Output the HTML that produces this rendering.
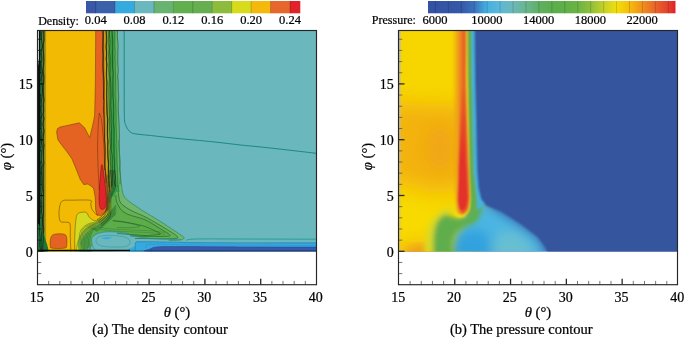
<!DOCTYPE html>
<html><head><meta charset="utf-8"><style>
html,body{margin:0;padding:0;background:#fff;}
body{width:685px;height:338px;overflow:hidden;}
svg{display:block;will-change:transform;font-family:"Liberation Serif",serif;font-size:14.5px;}
svg text{fill:#000;stroke:#000;stroke-width:0.22px;}
</style></head><body>
<svg width="685" height="338" viewBox="0 0 685 338">
<defs>
<clipPath id="cl"><rect x="37" y="30" width="280" height="221.60000000000002"/></clipPath>
<clipPath id="cr"><rect x="398" y="30" width="280" height="221.60000000000002"/></clipPath>
</defs>
<rect x="86.00" y="1" width="10.00" height="12.3" fill="#3A56A6"/>
<rect x="95.70" y="1" width="19.73" height="12.3" fill="#3A61AA"/>
<rect x="115.13" y="1" width="19.73" height="12.3" fill="#36AADF"/>
<rect x="134.56" y="1" width="19.73" height="12.3" fill="#6AB8BE"/>
<rect x="153.99" y="1" width="19.73" height="12.3" fill="#67B36F"/>
<rect x="173.42" y="1" width="19.73" height="12.3" fill="#62AF4E"/>
<rect x="192.85" y="1" width="19.73" height="12.3" fill="#66AF50"/>
<rect x="212.28" y="1" width="19.73" height="12.3" fill="#8DBC3C"/>
<rect x="231.71" y="1" width="19.73" height="12.3" fill="#D7DB1C"/>
<rect x="251.14" y="1" width="19.73" height="12.3" fill="#F4B90A"/>
<rect x="270.57" y="1" width="19.73" height="12.3" fill="#E7662B"/>
<rect x="290.00" y="1" width="10.30" height="12.3" fill="#E22128"/>
<line x1="95.70" y1="1" x2="95.70" y2="13.3" stroke="#000" stroke-opacity="0.25" stroke-width="0.8"/>
<line x1="115.13" y1="1" x2="115.13" y2="13.3" stroke="#000" stroke-opacity="0.25" stroke-width="0.8"/>
<line x1="134.56" y1="1" x2="134.56" y2="13.3" stroke="#000" stroke-opacity="0.25" stroke-width="0.8"/>
<line x1="153.99" y1="1" x2="153.99" y2="13.3" stroke="#000" stroke-opacity="0.25" stroke-width="0.8"/>
<line x1="173.42" y1="1" x2="173.42" y2="13.3" stroke="#000" stroke-opacity="0.25" stroke-width="0.8"/>
<line x1="192.85" y1="1" x2="192.85" y2="13.3" stroke="#000" stroke-opacity="0.25" stroke-width="0.8"/>
<line x1="212.28" y1="1" x2="212.28" y2="13.3" stroke="#000" stroke-opacity="0.25" stroke-width="0.8"/>
<line x1="231.71" y1="1" x2="231.71" y2="13.3" stroke="#000" stroke-opacity="0.25" stroke-width="0.8"/>
<line x1="251.14" y1="1" x2="251.14" y2="13.3" stroke="#000" stroke-opacity="0.25" stroke-width="0.8"/>
<line x1="270.57" y1="1" x2="270.57" y2="13.3" stroke="#000" stroke-opacity="0.25" stroke-width="0.8"/>
<line x1="290.00" y1="1" x2="290.00" y2="13.3" stroke="#000" stroke-opacity="0.25" stroke-width="0.8"/>
<text x="38.2" y="24.5" font-size="12">Density:</text>
<text x="95.70" y="24.4" font-size="12.5" text-anchor="middle">0.04</text>
<text x="134.56" y="24.4" font-size="12.5" text-anchor="middle">0.08</text>
<text x="173.42" y="24.4" font-size="12.5" text-anchor="middle">0.12</text>
<text x="212.28" y="24.4" font-size="12.5" text-anchor="middle">0.16</text>
<text x="251.14" y="24.4" font-size="12.5" text-anchor="middle">0.20</text>
<text x="290.00" y="24.4" font-size="12.5" text-anchor="middle">0.24</text>
<defs><linearGradient id="pg" x1="428" x2="675.5" y1="0" y2="0" gradientUnits="userSpaceOnUse">
<stop offset="0.0000" stop-color="#3451A2"/>
<stop offset="0.1333" stop-color="#3558A7"/>
<stop offset="0.1859" stop-color="#3A72BB"/>
<stop offset="0.2384" stop-color="#45B0E2"/>
<stop offset="0.2909" stop-color="#5CB8D8"/>
<stop offset="0.3434" stop-color="#6BB8B8"/>
<stop offset="0.3960" stop-color="#69B590"/>
<stop offset="0.4485" stop-color="#5FB063"/>
<stop offset="0.5010" stop-color="#5AAE4C"/>
<stop offset="0.5535" stop-color="#5FAF49"/>
<stop offset="0.6061" stop-color="#6CB445"/>
<stop offset="0.6586" stop-color="#8FBF3A"/>
<stop offset="0.7111" stop-color="#C5D127"/>
<stop offset="0.7636" stop-color="#F2DE0A"/>
<stop offset="0.8162" stop-color="#F5BA0B"/>
<stop offset="0.8687" stop-color="#EF8E1D"/>
<stop offset="0.9212" stop-color="#E8632A"/>
<stop offset="0.9697" stop-color="#E3402B"/>
<stop offset="1.0000" stop-color="#E1222A"/>
</linearGradient></defs>
<rect x="428" y="1" width="247.5" height="12.3" fill="url(#pg)"/>
<line x1="435.40" y1="1" x2="435.40" y2="13.3" stroke="#000" stroke-opacity="0.2" stroke-width="0.8"/>
<line x1="448.34" y1="1" x2="448.34" y2="13.3" stroke="#000" stroke-opacity="0.2" stroke-width="0.8"/>
<line x1="461.28" y1="1" x2="461.28" y2="13.3" stroke="#000" stroke-opacity="0.2" stroke-width="0.8"/>
<line x1="474.22" y1="1" x2="474.22" y2="13.3" stroke="#000" stroke-opacity="0.2" stroke-width="0.8"/>
<line x1="487.16" y1="1" x2="487.16" y2="13.3" stroke="#000" stroke-opacity="0.2" stroke-width="0.8"/>
<line x1="500.10" y1="1" x2="500.10" y2="13.3" stroke="#000" stroke-opacity="0.2" stroke-width="0.8"/>
<line x1="513.04" y1="1" x2="513.04" y2="13.3" stroke="#000" stroke-opacity="0.2" stroke-width="0.8"/>
<line x1="525.98" y1="1" x2="525.98" y2="13.3" stroke="#000" stroke-opacity="0.2" stroke-width="0.8"/>
<line x1="538.92" y1="1" x2="538.92" y2="13.3" stroke="#000" stroke-opacity="0.2" stroke-width="0.8"/>
<line x1="551.86" y1="1" x2="551.86" y2="13.3" stroke="#000" stroke-opacity="0.2" stroke-width="0.8"/>
<line x1="564.80" y1="1" x2="564.80" y2="13.3" stroke="#000" stroke-opacity="0.2" stroke-width="0.8"/>
<line x1="577.74" y1="1" x2="577.74" y2="13.3" stroke="#000" stroke-opacity="0.2" stroke-width="0.8"/>
<line x1="590.68" y1="1" x2="590.68" y2="13.3" stroke="#000" stroke-opacity="0.2" stroke-width="0.8"/>
<line x1="603.62" y1="1" x2="603.62" y2="13.3" stroke="#000" stroke-opacity="0.2" stroke-width="0.8"/>
<line x1="616.56" y1="1" x2="616.56" y2="13.3" stroke="#000" stroke-opacity="0.2" stroke-width="0.8"/>
<line x1="629.50" y1="1" x2="629.50" y2="13.3" stroke="#000" stroke-opacity="0.2" stroke-width="0.8"/>
<line x1="642.44" y1="1" x2="642.44" y2="13.3" stroke="#000" stroke-opacity="0.2" stroke-width="0.8"/>
<line x1="655.38" y1="1" x2="655.38" y2="13.3" stroke="#000" stroke-opacity="0.2" stroke-width="0.8"/>
<line x1="668.32" y1="1" x2="668.32" y2="13.3" stroke="#000" stroke-opacity="0.2" stroke-width="0.8"/>
<text x="371.8" y="24.4" font-size="12">Pressure:</text>
<text x="435.00" y="24.4" font-size="12.5" text-anchor="middle">6000</text>
<text x="486.76" y="24.4" font-size="12.5" text-anchor="middle">10000</text>
<text x="538.52" y="24.4" font-size="12.5" text-anchor="middle">14000</text>
<text x="590.28" y="24.4" font-size="12.5" text-anchor="middle">18000</text>
<text x="642.04" y="24.4" font-size="12.5" text-anchor="middle">22000</text>
<g clip-path="url(#cl)">
<rect x="37" y="30" width="280" height="222" fill="#6AB8BE"/>
<path d="M103.00,29.00 C104.76,12.40 116.13,22.90 117.60,29.00 C119.07,35.10 117.63,80.40 117.70,90.00 C117.77,99.60 118.15,120.00 118.30,125.00 C118.45,130.00 119.02,135.50 119.20,140.00 C119.38,144.50 119.87,165.50 120.10,170.00 C120.33,174.50 121.26,182.80 121.50,185.00 C121.74,187.20 122.20,190.80 122.50,192.00 C122.80,193.20 123.95,196.14 124.50,197.00 C125.05,197.86 126.67,199.55 128.00,200.60 C129.33,201.65 136.10,206.34 137.80,207.50 C139.50,208.66 143.10,211.03 145.00,212.20 C146.90,213.37 154.43,217.73 156.80,219.20 C159.17,220.67 166.44,225.42 168.70,226.90 C170.96,228.38 177.86,232.93 179.40,234.00 C180.94,235.07 183.99,237.00 184.10,237.60 C184.21,238.20 182.04,239.73 180.50,240.00 C178.96,240.27 171.75,240.26 168.70,240.30 C165.65,240.34 153.17,240.35 150.00,240.40 C146.83,240.45 139.10,240.44 137.00,240.80 C134.90,241.16 130.60,243.18 129.00,244.00 C127.40,244.82 122.70,248.20 121.00,249.00 C119.30,249.80 117.10,251.70 112.00,252.00 C106.90,252.30 74.20,256.70 70.00,252.00 C65.80,247.30 67.00,210.70 70.00,205.00 C73.00,199.30 96.70,212.60 100.00,195.00 C103.30,177.40 101.24,45.60 103.00,29.00 Z" fill="#70B66D" />
<path d="M104.00,29.00 C105.54,12.40 114.25,22.90 115.40,29.00 C116.55,35.10 115.44,80.40 115.50,90.00 C115.56,99.60 115.85,117.50 116.00,125.00 C116.15,132.50 116.80,159.00 117.00,165.00 C117.20,171.00 117.84,182.00 118.00,185.00 C118.16,188.00 118.30,193.17 118.60,195.00 C118.90,196.83 119.78,201.77 121.00,203.30 C122.22,204.83 128.40,208.95 130.80,210.30 C133.20,211.65 142.40,215.49 145.00,216.80 C147.60,218.11 154.43,222.03 156.80,223.40 C159.17,224.77 166.62,229.14 168.70,230.50 C170.78,231.86 177.24,236.17 177.60,237.00 C177.96,237.83 175.06,238.64 172.30,238.80 C169.54,238.96 153.73,238.63 150.00,238.60 C146.27,238.57 138.00,238.36 135.00,238.50 C132.00,238.64 123.50,239.25 120.00,240.00 C116.50,240.75 102.80,244.80 100.00,246.00 C97.20,247.20 95.00,251.40 92.00,252.00 C89.00,252.60 72.20,256.70 70.00,252.00 C67.80,247.30 67.00,210.70 70.00,205.00 C73.00,199.30 96.60,212.60 100.00,195.00 C103.40,177.40 102.46,45.60 104.00,29.00 Z" fill="#64B155" />
<path d="M104.00,29.00 C105.32,12.40 112.27,22.90 113.20,29.00 C114.13,35.10 113.26,80.40 113.30,90.00 C113.34,99.60 113.48,117.50 113.60,125.00 C113.72,132.50 114.34,159.00 114.50,165.00 C114.66,171.00 115.05,182.00 115.20,185.00 C115.35,188.00 115.89,193.44 116.00,195.00 C116.11,196.56 115.86,199.21 116.30,200.60 C116.74,201.99 119.23,207.52 120.40,208.90 C121.57,210.28 125.54,213.31 128.00,214.40 C130.46,215.49 141.88,218.43 145.00,219.80 C148.12,221.17 156.71,226.56 159.20,228.10 C161.69,229.64 169.54,234.37 169.90,235.20 C170.26,236.03 165.29,236.29 162.80,236.40 C160.31,236.51 148.28,236.34 145.00,236.30 C141.72,236.26 132.50,235.83 130.00,236.00 C127.50,236.17 123.00,237.20 120.00,238.00 C117.00,238.80 103.00,242.60 100.00,244.00 C97.00,245.40 93.00,251.20 90.00,252.00 C87.00,252.80 72.00,256.70 70.00,252.00 C68.00,247.30 67.00,210.70 70.00,205.00 C73.00,199.30 96.60,212.60 100.00,195.00 C103.40,177.40 102.68,45.60 104.00,29.00 Z" fill="#5CAD49" />
<path d="M108.60,29.00 C109.04,19.90 112.71,21.90 113.20,29.00 C113.69,36.10 113.40,87.90 113.50,100.00 C113.60,112.10 114.03,142.00 114.20,150.00 C114.37,158.00 115.02,175.80 115.20,180.00 C115.38,184.20 116.22,190.30 116.00,192.00 C115.78,193.70 113.60,197.00 113.00,197.00 C112.40,197.00 110.40,196.70 110.00,192.00 C109.60,187.30 109.12,157.20 109.00,150.00 C108.88,142.80 108.84,132.10 108.80,120.00 C108.76,107.90 108.16,38.10 108.60,29.00 Z" fill="#38A247" />
<path d="M91.80,238.60 C92.05,237.50 94.04,235.62 95.00,235.00 C95.96,234.38 99.70,232.72 101.40,232.40 C103.10,232.08 109.74,231.74 112.00,231.80 C114.26,231.86 121.70,232.54 124.00,233.00 C126.30,233.46 132.40,235.86 135.00,236.40 C137.60,236.94 146.70,238.13 150.00,238.40 C153.30,238.67 164.90,238.99 168.00,239.10 C171.10,239.21 177.80,239.45 181.00,239.50 C184.20,239.55 186.10,239.59 200.00,239.60 C213.90,239.61 308.00,238.36 320.00,239.60 C332.00,240.84 342.40,250.76 320.00,252.00 C297.60,253.24 118.75,252.60 96.00,252.00 C73.25,251.40 92.92,247.34 92.50,246.00 C92.08,244.66 91.55,239.70 91.80,238.60 Z" fill="#6AB8BE" />
<path d="M101.80,238.20 C101.63,237.83 104.33,237.17 106.00,237.10 C107.67,237.03 111.63,237.43 111.80,237.80 C111.97,238.17 108.67,239.23 107.00,239.30 C105.33,239.37 101.97,238.57 101.80,238.20 Z" fill="#36AADF" />
<path d="M135.30,252.00 C116.82,251.40 135.15,246.98 135.20,246.00 C135.25,245.02 135.32,242.63 135.80,242.20 C136.28,241.77 137.58,241.73 140.00,241.70 C142.42,241.67 156.00,241.84 160.00,241.90 C164.00,241.96 176.00,242.22 180.00,242.30 C184.00,242.38 192.00,242.64 200.00,242.70 C208.00,242.76 248.00,242.87 260.00,242.90 C272.00,242.93 314.00,242.09 320.00,243.00 C326.00,243.91 338.47,251.10 320.00,252.00 C301.53,252.90 153.78,252.60 135.30,252.00 Z" fill="#36AADF" />
<path d="M151.00,252.00 C134.15,251.62 150.66,248.73 151.50,248.20 C152.34,247.67 156.55,246.87 159.40,246.70 C162.25,246.53 171.94,246.48 180.00,246.50 C188.06,246.52 226.00,246.83 240.00,246.90 C254.00,246.97 312.00,246.69 320.00,247.20 C328.00,247.71 336.90,251.52 320.00,252.00 C303.10,252.48 167.85,252.38 151.00,252.00 Z" fill="#3A58A7" />
<path d="M38.00,29.00 C49.77,-8.17 96.80,13.83 108.60,29.00 C120.40,44.17 108.65,93.17 108.80,120.00 C108.95,146.83 109.05,175.83 109.50,190.00 C109.95,204.17 111.50,200.83 111.50,205.00 C111.50,209.17 111.08,212.08 109.50,215.00 C107.92,217.92 104.58,220.42 102.00,222.50 C99.42,224.58 96.67,225.67 94.00,227.50 C91.33,229.33 88.25,231.08 86.00,233.50 C83.75,235.92 81.73,238.92 80.50,242.00 C79.27,245.08 85.68,250.33 78.60,252.00 C71.52,253.67 44.77,289.17 38.00,252.00 C31.23,214.83 26.23,66.17 38.00,29.00 Z" fill="#9CC236" />
<path d="M38.00,29.00 C49.42,-8.17 95.03,13.83 106.50,29.00 C117.97,44.17 106.68,93.17 106.80,120.00 C106.92,146.83 106.75,175.83 107.20,190.00 C107.65,204.17 109.45,200.92 109.50,205.00 C109.55,209.08 109.00,211.87 107.50,214.50 C106.00,217.13 102.92,219.13 100.50,220.80 C98.08,222.47 95.50,223.05 93.00,224.50 C90.50,225.95 87.70,227.42 85.50,229.50 C83.30,231.58 81.22,234.42 79.80,237.00 C78.38,239.58 77.57,242.50 77.00,245.00 C76.43,247.50 82.90,250.83 76.40,252.00 C69.90,253.17 44.40,289.17 38.00,252.00 C31.60,214.83 26.58,66.17 38.00,29.00 Z" fill="#D5D920" />
<path d="M46.10,29.00 C53.09,2.98 98.99,20.72 106.00,29.00 C113.01,37.28 106.14,81.22 106.20,100.00 C106.26,118.78 106.41,177.40 106.50,190.00 C106.59,202.60 107.29,204.97 107.00,208.00 C106.71,211.03 104.93,214.66 104.00,216.00 C103.07,217.34 100.07,218.94 99.00,219.50 C97.93,220.06 95.90,221.02 94.80,220.80 C93.70,220.58 90.57,218.56 89.60,217.60 C88.63,216.64 87.39,213.22 86.50,212.60 C85.61,211.98 83.02,212.16 82.00,212.30 C80.98,212.44 78.50,213.02 77.80,213.80 C77.10,214.58 76.33,217.34 76.00,219.00 C75.67,220.66 75.15,225.55 75.00,228.00 C74.85,230.45 74.75,237.20 74.70,240.00 C74.65,242.80 77.94,250.60 74.60,252.00 C71.26,253.40 49.42,278.02 46.10,252.00 C42.78,225.98 39.11,55.02 46.10,29.00 Z" fill="#F2BA02" />
<path d="M102.40,29.00 L103.30,100.00 L104.00,140.00 L104.80,170.00 L106.00,192.00 L109.20,192.00 L108.00,170.00 L107.20,140.00 L106.50,100.00 L105.60,29.00 Z" fill="#D0A318" />
<path d="M105.60,29.00 L106.50,100.00 L107.20,140.00 L108.00,170.00 L109.20,192.00 L110.30,192.00 L109.10,170.00 L108.30,140.00 L107.60,100.00 L106.70,29.00 Z" fill="#4b4a22" />
<path d="M106.70,29.00 L107.60,100.00 L108.30,140.00 L109.10,170.00 L110.30,192.00 L111.90,192.00 L110.70,170.00 L109.90,140.00 L109.20,100.00 L108.30,29.00 Z" fill="#86A52E" />
<path d="M108.30,29.00 L109.20,100.00 L109.90,140.00 L110.70,170.00 L111.90,192.00 L114.20,192.00 L113.00,170.00 L112.20,140.00 L111.50,100.00 L110.60,29.00 Z" fill="#3DA048" />
<path d="M110.60,29.00 L111.50,100.00 L112.20,140.00 L113.00,170.00 L114.20,192.00 L117.20,192.00 L116.00,170.00 L115.20,140.00 L114.50,100.00 L113.60,29.00 Z" fill="#2E9D43" />
<path d="M113.60,29.00 L114.50,100.00 L115.20,140.00 L116.00,170.00 L117.20,192.00 L119.60,192.00 L118.40,170.00 L117.60,140.00 L116.90,100.00 L116.00,29.00 Z" fill="#4AAA52" />
<path d="M116.00,29.00 L116.90,100.00 L117.60,140.00 L118.40,170.00 L120.10,170.00 L119.30,140.00 L118.60,100.00 L117.70,29.00 Z" fill="#66B26C" />
<path d="M95.70,29.00 L103.60,29.00 L103.80,60.00 L104.40,100.00 L104.90,125.00 L105.00,170.00 L107.30,185.00 L108.20,200.00 L107.50,209.00 L104.00,213.50 L100.80,215.60 L97.00,215.00 L95.60,210.00 L95.30,198.00 L93.50,188.00 L88.00,184.00 L83.70,184.60 L80.00,179.00 L76.50,170.00 L72.00,159.00 L66.00,150.60 L61.00,144.20 L57.80,139.50 L56.60,132.00 L57.50,128.60 L60.00,127.00 L67.00,125.50 L79.30,122.80 L84.50,127.60 L89.70,137.50 L92.50,126.00 L94.60,116.00 L95.40,80.00 Z" fill="#E56322" stroke="#3a1c0a" stroke-width="0.55" stroke-opacity="0.7"/>
<path d="M101.30,166.00 C101.67,164.33 102.12,164.00 102.60,166.00 C103.08,168.00 103.63,173.67 104.20,178.00 C104.77,182.33 105.63,188.00 106.00,192.00 C106.37,196.00 106.63,199.28 106.40,202.00 C106.17,204.72 105.53,207.17 104.60,208.30 C103.67,209.43 101.72,209.85 100.80,208.80 C99.88,207.75 99.33,205.47 99.10,202.00 C98.87,198.53 99.18,192.33 99.40,188.00 C99.62,183.67 100.08,179.67 100.40,176.00 C100.72,172.33 100.93,167.67 101.30,166.00 Z" fill="#E2242A" stroke="#3a0c0a" stroke-width="0.55" stroke-opacity="0.7"/>
<path d="M50.30,240.00 C50.58,238.25 51.05,236.50 52.00,235.50 C52.95,234.50 54.17,234.25 56.00,234.00 C57.83,233.75 61.25,233.58 63.00,234.00 C64.75,234.42 65.88,234.50 66.50,236.50 C67.12,238.50 67.12,244.05 66.70,246.00 C66.28,247.95 66.45,247.83 64.00,248.20 C61.55,248.57 54.28,248.57 52.00,248.20 C49.72,247.83 50.58,247.37 50.30,246.00 C50.02,244.63 50.02,241.75 50.30,240.00 Z" fill="#E56322" stroke="#3a1c0a" stroke-width="0.55" stroke-opacity="0.7"/>
<rect x="37" y="29" width="3" height="223" fill="#0d110d"/>
<rect x="40" y="29" width="2.7" height="223" fill="#25723C"/>
<rect x="42.7" y="29" width="1.9" height="223" fill="#3E4B2A"/>
<rect x="44.6" y="29" width="1.5" height="223" fill="#A39B20"/>
<path d="M37.00,252.00 C35.17,247.50 36.33,229.00 37.00,225.00 C37.67,221.00 39.67,225.83 41.00,228.00 C42.33,230.17 43.83,234.00 45.00,238.00 C46.17,242.00 49.33,249.67 48.00,252.00 C46.67,254.33 38.83,256.50 37.00,252.00 Z" fill="#22753A" />
<defs><linearGradient id="lc" x1="0" y1="29" x2="0" y2="66" gradientUnits="userSpaceOnUse"><stop offset="0" stop-color="#d8d8d8"/><stop offset="0.8" stop-color="#d0d0d0"/><stop offset="1" stop-color="#d0d0d0" stop-opacity="0"/></linearGradient></defs>
<rect x="37.9" y="29" width="1.1" height="37" fill="url(#lc)"/>
<path d="M39.98,29.00 L40.57,32.60 L40.36,35.89 L39.50,40.36 L39.47,45.39 L39.53,50.12 L40.16,53.48 L39.62,59.79 L40.53,63.68 L40.44,70.47 L41.16,75.06 L40.95,78.25 L39.66,82.41 L39.96,85.88 L39.73,92.14 L40.55,97.47 L40.39,101.96 L39.51,105.21 L40.62,109.03 L39.97,113.74 L40.22,119.09 L40.83,123.28 L39.84,129.08 L40.35,134.38 L40.71,140.88 L41.16,145.03 L40.15,148.50 L39.67,154.53 L39.47,159.49 L40.78,165.16 L40.98,170.45 L40.65,174.71 L40.44,180.08 L40.91,184.91 L40.25,191.69 L39.51,197.34 L40.56,203.15 L40.88,210.12 L40.09,214.26 L39.44,219.94 L39.70,224.78 L39.51,228.25 L39.63,234.32 L40.10,238.31 L39.55,244.80 L40.39,249.60 L40.30,252.00" fill="none" stroke="#0a0a0a" stroke-width="0.7" stroke-opacity="0.75"/>
<path d="M42.37,29.00 L41.40,35.46 L41.55,40.12 L42.62,46.65 L41.22,50.26 L41.32,54.19 L41.96,59.13 L40.91,63.18 L41.56,67.85 L42.62,73.12 L41.83,78.88 L42.12,84.35 L42.52,87.57 L42.47,93.69 L41.61,99.88 L41.09,104.47 L41.01,110.01 L41.28,113.28 L41.51,116.93 L40.90,120.14 L41.08,123.74 L40.95,128.20 L42.01,134.70 L41.35,138.29 L41.56,142.68 L42.43,146.17 L41.74,153.14 L41.05,158.08 L41.52,161.49 L42.39,165.55 L40.94,169.19 L41.85,176.00 L41.88,179.58 L41.85,182.69 L42.45,189.60 L41.37,195.39 L41.20,199.86 L41.86,205.94 L41.49,212.06 L42.36,215.95 L42.43,222.89 L42.37,229.12 L41.31,235.08 L41.54,240.15 L40.95,243.26 L41.37,247.38 L41.80,252.00" fill="none" stroke="#0a0a0a" stroke-width="0.7" stroke-opacity="0.75"/>
<path d="M44.22,29.00 L44.19,33.79 L44.22,40.74 L42.90,45.20 L42.85,49.11 L43.62,52.92 L44.01,59.53 L43.68,64.44 L42.65,70.64 L44.14,76.28 L43.85,82.41 L42.82,87.33 L43.10,93.48 L44.25,99.69 L43.22,104.27 L43.80,111.06 L42.73,114.74 L44.13,118.34 L42.76,124.57 L44.26,130.87 L43.13,136.50 L42.74,141.70 L44.25,144.75 L43.45,150.35 L43.28,157.09 L43.99,163.57 L42.95,167.42 L42.93,171.59 L42.97,176.94 L42.74,181.61 L43.14,188.25 L43.55,193.08 L43.26,199.70 L43.40,206.37 L43.44,211.50 L43.29,214.57 L42.51,218.31 L42.81,224.50 L43.81,229.40 L43.09,234.62 L43.50,239.70 L42.69,245.83 L42.95,251.08 L43.40,252.00" fill="none" stroke="#0a0a0a" stroke-width="0.7" stroke-opacity="0.75"/>
<path d="M124.20,29.00 C124.20,39.17 124.17,75.20 124.20,90.00 C124.23,104.80 124.15,111.98 124.40,117.80 C124.65,123.62 124.90,122.70 125.70,124.90 C126.50,127.10 127.73,129.53 129.20,131.00 C130.67,132.47 130.95,132.95 134.50,133.70 C138.05,134.45 143.75,134.75 150.50,135.50 C157.25,136.25 164.45,137.13 175.00,138.20 C185.55,139.27 202.58,140.73 213.80,141.90 C225.02,143.07 233.18,144.22 242.30,145.20 C251.42,146.18 255.88,146.42 268.50,147.80 C281.12,149.18 309.75,152.55 318.00,153.50" fill="none" stroke="#16857f" stroke-width="1.0" stroke-opacity="0.95"/>
<path d="M71.00,252.00 C70.93,250.92 70.72,248.17 70.60,245.50 C70.48,242.83 70.40,239.58 70.30,236.00 C70.20,232.42 70.72,226.30 70.00,224.00 C69.28,221.70 67.58,222.62 66.00,222.20 C64.42,221.78 61.67,222.87 60.50,221.50 C59.33,220.13 59.08,216.75 59.00,214.00 C58.92,211.25 59.33,207.23 60.00,205.00 C60.67,202.77 61.00,201.40 63.00,200.60 C65.00,199.80 67.47,200.25 72.00,200.20 C76.53,200.15 87.07,199.67 90.20,200.30 C93.33,200.93 90.53,202.55 90.80,204.00 C91.07,205.45 91.22,207.62 91.80,209.00 C92.38,210.38 93.33,211.17 94.30,212.30 C95.27,213.43 97.05,215.22 97.60,215.80" fill="none" stroke="#3a2a10" stroke-width="0.6" stroke-opacity="0.75"/>
<path d="M99.30,113.00 C99.67,114.17 100.88,116.33 101.50,120.00 C102.12,123.67 102.55,130.00 103.00,135.00 C103.45,140.00 103.93,144.17 104.20,150.00 C104.47,155.83 104.53,166.67 104.60,170.00" fill="none" stroke="#3b1a08" stroke-width="0.6" stroke-opacity="0.65"/>
<path d="M99.30,113.00 C99.15,114.50 98.65,118.33 98.40,122.00 C98.15,125.67 97.93,130.33 97.80,135.00 C97.67,139.67 97.53,144.17 97.60,150.00 C97.67,155.83 97.92,163.33 98.20,170.00 C98.48,176.67 99.12,186.67 99.30,190.00" fill="none" stroke="#3b1a08" stroke-width="0.6" stroke-opacity="0.65"/>
<path d="M102.60,29.00 C102.63,34.17 102.60,48.17 102.80,60.00 C103.00,71.83 103.63,93.33 103.80,100.00" fill="none" stroke="#3b2a10" stroke-width="0.8" stroke-opacity="0.7"/>
<path d="M102.86,29.00 L103.37,35.80 L103.07,42.13 L102.87,49.06 L103.35,55.62 L102.97,63.59 L103.04,69.11 L103.68,77.15 L104.00,81.36 L103.81,90.19 L103.46,97.26 L103.85,101.34 L103.62,105.64 L103.57,110.85 L104.05,117.17 L104.26,125.38 L104.37,132.58 L104.46,139.89 L105.09,145.28 L105.19,154.26 L104.92,161.80 L105.03,166.95 L105.57,171.30 L105.81,177.30 L106.07,183.24" fill="none" stroke="#1a1f10" stroke-width="0.9" stroke-opacity="0.85"/>
<path d="M105.65,29.00 L106.53,34.05 L106.68,40.40 L105.94,46.39 L106.66,53.53 L106.11,58.88 L106.97,64.54 L106.31,72.33 L106.36,77.57 L107.04,81.87 L106.89,86.75 L106.63,92.99 L106.68,100.65 L106.79,107.87 L106.99,113.97 L107.76,119.32 L107.30,127.34 L107.37,135.76 L108.07,141.74 L107.58,148.94 L107.92,157.89 L108.56,163.18 L108.29,168.83 L108.22,173.19 L108.54,180.11 L108.84,187.11" fill="none" stroke="#1a1f10" stroke-width="0.9" stroke-opacity="0.9"/>
<path d="M108.81,29.00 L108.55,35.42 L108.30,43.75 L109.02,48.52 L108.52,56.61 L109.03,61.56 L108.65,70.26 L109.38,79.01 L109.05,86.03 L108.77,90.55 L109.06,99.36 L109.20,106.89 L109.65,115.00 L109.37,120.47 L109.40,128.07 L109.93,133.22 L110.14,141.48 L110.56,146.88 L109.88,151.90 L110.41,157.24 L110.28,161.55 L110.80,167.39 L110.73,172.05 L111.51,180.50 L111.45,187.79" fill="none" stroke="#1a1f10" stroke-width="0.6" stroke-opacity="0.7"/>
<path d="M109.48,29.00 L109.42,33.18 L110.14,41.73 L109.64,50.54 L110.15,57.72 L110.10,65.37 L109.99,74.37 L110.67,81.10 L110.78,89.60 L110.93,97.12 L110.67,105.70 L111.29,113.12 L111.00,121.48 L111.54,129.43 L111.45,136.29 L111.53,142.21 L111.27,149.25 L112.28,156.45 L112.27,164.85 L112.43,170.79 L112.35,177.69 L112.25,185.88" fill="none" stroke="#1a1f10" stroke-width="0.7" stroke-opacity="0.75"/>
<path d="M111.88,29.00 L112.37,36.01 L112.63,41.16 L112.64,47.64 L112.43,56.25 L112.52,60.30 L112.52,67.69 L113.22,72.54 L112.89,79.84 L112.90,88.30 L112.87,95.63 L113.51,101.78 L113.72,110.36 L113.56,116.28 L113.26,121.86 L114.00,128.34 L114.03,136.59 L113.84,145.34 L114.13,150.18 L114.06,155.56 L114.59,161.63 L114.48,168.10 L115.30,176.29 L114.65,182.55 L115.48,186.71" fill="none" stroke="#1a1f10" stroke-width="0.7" stroke-opacity="0.7"/>
<path d="M114.79,29.00 L114.51,35.85 L114.35,43.81 L114.81,48.49 L115.20,52.61 L114.64,57.80 L115.14,62.04 L115.21,68.27 L115.47,75.54 L115.47,84.34 L115.34,89.33 L114.99,94.23 L115.70,100.59 L115.39,105.48 L115.87,111.21 L115.91,117.81 L115.85,125.59 L116.45,133.55 L116.55,137.99 L116.02,145.60 L116.63,151.87 L116.63,160.42 L117.27,167.26 L117.54,175.25 L117.44,181.57 L117.64,186.59" fill="none" stroke="#1a1f10" stroke-width="0.5" stroke-opacity="0.5"/>
<path d="M117.63,29.00 L117.34,36.59 L118.14,45.09 L117.85,53.98 L117.76,61.93 L118.35,70.48 L117.72,76.22 L118.22,82.43 L118.27,90.27 L118.61,94.41 L118.65,98.73 L118.31,103.59 L118.28,111.53 L118.70,116.28 L119.12,123.89 L119.35,131.34 L119.47,137.80 L118.91,142.23 L119.15,148.87 L119.67,156.51 L120.03,163.13 L119.73,169.93 L120.37,175.83 L120.02,184.33" fill="none" stroke="#1a1f10" stroke-width="0.6" stroke-opacity="0.7"/>
<path d="M108.90,170.00 C109.07,172.67 110.13,181.33 109.90,186.00 C109.67,190.67 108.07,194.33 107.50,198.00 C106.93,201.67 107.17,205.25 106.50,208.00 C105.83,210.75 105.08,212.50 103.50,214.50 C101.92,216.50 98.08,219.08 97.00,220.00" fill="none" stroke="#1a1f10" stroke-width="0.65" stroke-opacity="0.75"/>
<path d="M110.40,170.00 C110.57,172.67 111.73,181.33 111.40,186.00 C111.07,190.67 109.03,194.33 108.40,198.00 C107.77,201.67 108.17,205.12 107.60,208.00 C107.03,210.88 106.57,213.07 105.00,215.30 C103.43,217.53 99.33,220.38 98.20,221.40" fill="none" stroke="#1a1f10" stroke-width="0.65" stroke-opacity="0.75"/>
<path d="M111.80,170.00 C111.97,172.67 113.22,181.33 112.80,186.00 C112.38,190.67 109.98,194.33 109.30,198.00 C108.62,201.67 109.17,204.98 108.70,208.00 C108.23,211.02 108.05,213.63 106.50,216.10 C104.95,218.57 100.58,221.68 99.40,222.80" fill="none" stroke="#1a1f10" stroke-width="0.65" stroke-opacity="0.75"/>
<path d="M113.20,170.00 C113.37,172.67 114.70,181.33 114.20,186.00 C113.70,190.67 110.93,194.33 110.20,198.00 C109.47,201.67 110.17,204.85 109.80,208.00 C109.43,211.15 109.53,214.20 108.00,216.90 C106.47,219.60 101.83,222.98 100.60,224.20" fill="none" stroke="#1a1f10" stroke-width="0.65" stroke-opacity="0.75"/>
<path d="M114.60,170.00 C114.77,172.67 116.18,181.33 115.60,186.00 C115.02,190.67 111.88,194.33 111.10,198.00 C110.32,201.67 111.17,204.72 110.90,208.00 C110.63,211.28 111.02,214.77 109.50,217.70 C107.98,220.63 103.08,224.28 101.80,225.60" fill="none" stroke="#1a1f10" stroke-width="0.65" stroke-opacity="0.75"/>
<path d="M106.20,176.00 C106.65,172.33 107.87,175.33 108.50,178.00 C109.13,180.67 109.83,187.50 110.00,192.00 C110.17,196.50 110.00,201.67 109.50,205.00 C109.00,208.33 107.62,212.83 107.00,212.00 C106.38,211.17 105.93,206.00 105.80,200.00 C105.67,194.00 105.75,179.67 106.20,176.00 Z" fill="#5a4a1e" opacity="0.55"/>
<path d="M119.20,140.00 C119.35,145.00 119.72,162.50 120.10,170.00 C120.48,177.50 121.10,181.33 121.50,185.00 C121.90,188.67 122.00,190.00 122.50,192.00 C123.00,194.00 123.58,195.57 124.50,197.00 C125.42,198.43 125.78,198.85 128.00,200.60 C130.22,202.35 134.97,205.57 137.80,207.50 C140.63,209.43 141.83,210.25 145.00,212.20 C148.17,214.15 152.85,216.75 156.80,219.20 C160.75,221.65 164.93,224.43 168.70,226.90 C172.47,229.37 176.83,232.22 179.40,234.00 C181.97,235.78 183.92,236.60 184.10,237.60 C184.28,238.60 183.07,239.55 180.50,240.00 C177.93,240.45 170.67,240.25 168.70,240.30" fill="none" stroke="#2a8a58" stroke-width="0.8" stroke-opacity="0.9"/>
<path d="M118.00,185.00 C118.10,186.67 118.10,191.95 118.60,195.00 C119.10,198.05 118.97,200.75 121.00,203.30 C123.03,205.85 126.80,208.05 130.80,210.30 C134.80,212.55 140.67,214.62 145.00,216.80 C149.33,218.98 152.85,221.12 156.80,223.40 C160.75,225.68 165.23,228.23 168.70,230.50 C172.17,232.77 177.00,235.62 177.60,237.00 C178.20,238.38 176.90,238.53 172.30,238.80 C167.70,239.07 156.22,238.65 150.00,238.60 C143.78,238.55 137.50,238.52 135.00,238.50" fill="none" stroke="#174f24" stroke-width="0.7" stroke-opacity="0.8"/>
<path d="M116.00,195.00 C116.05,195.93 115.57,198.28 116.30,200.60 C117.03,202.92 118.45,206.60 120.40,208.90 C122.35,211.20 123.90,212.58 128.00,214.40 C132.10,216.22 139.80,217.52 145.00,219.80 C150.20,222.08 155.05,225.53 159.20,228.10 C163.35,230.67 169.30,233.82 169.90,235.20 C170.50,236.58 166.95,236.22 162.80,236.40 C158.65,236.58 150.47,236.37 145.00,236.30 C139.53,236.23 132.50,236.05 130.00,236.00" fill="none" stroke="#174f24" stroke-width="0.7" stroke-opacity="0.8"/>
<path d="M112.80,220.70 C114.65,220.92 120.20,221.45 123.90,222.00 C127.60,222.55 131.48,223.25 135.00,224.00 C138.52,224.75 142.17,225.58 145.00,226.50 C147.83,227.42 149.43,228.25 152.00,229.50 C154.57,230.75 160.73,233.05 160.40,234.00 C160.07,234.95 152.57,234.95 150.00,235.20 C147.43,235.45 148.20,235.62 145.00,235.50 C141.80,235.38 135.47,234.83 130.80,234.50 C126.13,234.17 119.30,233.67 117.00,233.50" fill="none" stroke="#174f24" stroke-width="0.7" stroke-opacity="0.8"/>
<path d="M112.80,220.70 C114.65,220.92 119.37,221.08 123.90,222.00 C128.43,222.92 138.85,225.27 140.00,226.20 C141.15,227.13 134.63,227.37 130.80,227.60 C126.97,227.83 119.30,227.60 117.00,227.60" fill="none" stroke="#1d5f2c" stroke-width="0.6" stroke-opacity="0.65"/>
<path d="M100.00,227.30 C102.50,227.63 109.17,228.83 115.00,229.30 C120.83,229.77 129.17,229.85 135.00,230.10 C140.83,230.35 145.00,230.43 150.00,230.80 C155.00,231.17 162.50,232.05 165.00,232.30" fill="none" stroke="#1d5f2c" stroke-width="0.55" stroke-opacity="0.55"/>
<path d="M100.00,229.20 C102.50,229.53 109.17,230.73 115.00,231.20 C120.83,231.67 129.17,231.75 135.00,232.00 C140.83,232.25 145.00,232.33 150.00,232.70 C155.00,233.07 162.50,233.95 165.00,234.20" fill="none" stroke="#1d5f2c" stroke-width="0.55" stroke-opacity="0.55"/>
<path d="M79.00,252.00 C79.00,250.00 78.67,243.67 79.00,240.00 C79.33,236.33 79.50,232.67 81.00,230.00 C82.50,227.33 85.17,225.50 88.00,224.00 C90.83,222.50 94.67,222.67 98.00,221.00 C101.33,219.33 105.00,216.67 108.00,214.00 C111.00,211.33 114.67,206.50 116.00,205.00" fill="none" stroke="#174f24" stroke-width="0.6" stroke-opacity="0.65"/>
<path d="M80.50,252.00 C80.47,250.00 80.02,243.67 80.35,240.00 C80.68,236.33 81.08,232.54 82.50,230.00 C83.92,227.46 86.32,226.05 88.90,224.75 C91.48,223.45 94.82,223.83 98.00,222.20 C101.18,220.57 105.00,217.65 108.00,214.97 C111.00,212.30 114.67,207.60 116.00,206.12" fill="none" stroke="#174f24" stroke-width="0.6" stroke-opacity="0.65"/>
<path d="M82.00,252.00 C81.95,250.00 81.37,243.67 81.70,240.00 C82.03,236.33 82.65,232.42 84.00,230.00 C85.35,227.58 87.47,226.60 89.80,225.50 C92.13,224.40 94.97,224.99 98.00,223.40 C101.03,221.81 105.00,218.64 108.00,215.95 C111.00,213.26 114.67,208.70 116.00,207.25" fill="none" stroke="#174f24" stroke-width="0.6" stroke-opacity="0.65"/>
<path d="M83.50,252.00 C83.42,250.00 82.72,243.67 83.05,240.00 C83.38,236.33 84.22,232.29 85.50,230.00 C86.78,227.71 88.62,227.15 90.70,226.25 C92.78,225.35 95.12,226.15 98.00,224.60 C100.88,223.05 105.00,219.63 108.00,216.93 C111.00,214.22 114.67,209.80 116.00,208.38" fill="none" stroke="#174f24" stroke-width="0.6" stroke-opacity="0.65"/>
<path d="M85.00,252.00 C84.90,250.00 84.07,243.67 84.40,240.00 C84.73,236.33 85.80,232.17 87.00,230.00 C88.20,227.83 89.77,227.70 91.60,227.00 C93.43,226.30 95.27,227.32 98.00,225.80 C100.73,224.28 105.00,220.62 108.00,217.90 C111.00,215.18 114.67,210.90 116.00,209.50" fill="none" stroke="#174f24" stroke-width="0.6" stroke-opacity="0.65"/>
<path d="M86.50,252.00 C86.38,250.00 85.42,243.67 85.75,240.00 C86.08,236.33 87.38,232.04 88.50,230.00 C89.62,227.96 90.92,228.25 92.50,227.75 C94.08,227.25 95.42,228.48 98.00,227.00 C100.58,225.52 105.00,221.60 108.00,218.88 C111.00,216.15 114.67,212.00 116.00,210.62" fill="none" stroke="#174f24" stroke-width="0.6" stroke-opacity="0.65"/>
<path d="M88.00,252.00 C87.85,250.00 86.77,243.67 87.10,240.00 C87.43,236.33 88.95,231.92 90.00,230.00 C91.05,228.08 92.07,228.80 93.40,228.50 C94.73,228.20 95.57,229.64 98.00,228.20 C100.43,226.76 105.00,222.59 108.00,219.85 C111.00,217.11 114.67,213.10 116.00,211.75" fill="none" stroke="#174f24" stroke-width="0.6" stroke-opacity="0.65"/>
<path d="M89.50,252.00 C89.33,250.00 88.12,243.67 88.45,240.00 C88.78,236.33 90.53,231.79 91.50,230.00 C92.47,228.21 93.22,229.35 94.30,229.25 C95.38,229.15 95.72,230.80 98.00,229.40 C100.28,228.00 105.00,223.58 108.00,220.82 C111.00,218.07 114.67,214.20 116.00,212.88" fill="none" stroke="#174f24" stroke-width="0.6" stroke-opacity="0.65"/>
<path d="M91.00,252.00 C90.80,250.00 89.47,243.67 89.80,240.00 C90.13,236.33 92.10,231.67 93.00,230.00 C93.90,228.33 94.37,229.90 95.20,230.00 C96.03,230.10 95.87,231.97 98.00,230.60 C100.13,229.23 105.00,224.57 108.00,221.80 C111.00,219.03 114.67,215.30 116.00,214.00" fill="none" stroke="#174f24" stroke-width="0.6" stroke-opacity="0.65"/>
<path d="M74.70,252.00 C74.72,249.17 74.58,240.50 74.80,235.00 C75.02,229.50 75.50,222.53 76.00,219.00 C76.50,215.47 76.80,214.92 77.80,213.80 C78.80,212.68 80.55,212.50 82.00,212.30 C83.45,212.10 85.23,211.72 86.50,212.60 C87.77,213.48 88.22,216.23 89.60,217.60 C90.98,218.97 93.23,220.48 94.80,220.80 C96.37,221.12 97.47,220.30 99.00,219.50 C100.53,218.70 102.67,217.92 104.00,216.00 C105.33,214.08 106.50,209.33 107.00,208.00" fill="none" stroke="#3d3a10" stroke-width="0.6" stroke-opacity="0.7"/>
<path d="M76.40,252.00 C76.50,250.83 76.43,247.50 77.00,245.00 C77.57,242.50 78.38,239.58 79.80,237.00 C81.22,234.42 83.30,231.58 85.50,229.50 C87.70,227.42 90.50,225.95 93.00,224.50 C95.50,223.05 98.08,222.47 100.50,220.80 C102.92,219.13 106.00,217.13 107.50,214.50 C109.00,211.87 109.17,206.58 109.50,205.00" fill="none" stroke="#3d4a10" stroke-width="0.55" stroke-opacity="0.55"/>
<path d="M96.00,251.00 C95.42,250.17 93.20,248.07 92.50,246.00 C91.80,243.93 91.38,240.43 91.80,238.60 C92.22,236.77 93.40,236.03 95.00,235.00 C96.60,233.97 98.57,232.93 101.40,232.40 C104.23,231.87 108.23,231.70 112.00,231.80 C115.77,231.90 120.17,232.23 124.00,233.00 C127.83,233.77 130.67,235.50 135.00,236.40 C139.33,237.30 144.50,237.95 150.00,238.40 C155.50,238.85 162.83,238.92 168.00,239.10 C173.17,239.28 178.83,239.43 181.00,239.50" fill="none" stroke="#238f87" stroke-width="0.8" stroke-opacity="0.9"/>
<path d="M96.00,240.50 C96.17,239.18 97.00,237.45 99.00,236.60 C101.00,235.75 104.50,235.47 108.00,235.40 C111.50,235.33 116.67,235.68 120.00,236.20 C123.33,236.72 126.33,237.37 128.00,238.50 C129.67,239.63 130.33,241.67 130.00,243.00 C129.67,244.33 128.67,245.83 126.00,246.50 C123.33,247.17 117.67,247.00 114.00,247.00 C110.33,247.00 106.67,246.92 104.00,246.50 C101.33,246.08 99.33,245.50 98.00,244.50 C96.67,243.50 95.83,241.82 96.00,240.50 Z" fill="none" stroke="#238f87" stroke-width="0.6" stroke-opacity="0.8"/>
<path d="M186.00,240.20 C187.67,240.00 187.00,239.20 196.00,239.00 C205.00,238.80 219.67,238.97 240.00,239.00 C260.33,239.03 305.00,239.17 318.00,239.20" fill="none" stroke="#1f9489" stroke-width="0.9" stroke-opacity="0.9"/>
<path d="M135.30,251.00 C135.28,250.17 135.12,247.47 135.20,246.00 C135.28,244.53 135.00,242.92 135.80,242.20 C136.60,241.48 135.97,241.75 140.00,241.70 C144.03,241.65 153.33,241.80 160.00,241.90 C166.67,242.00 173.33,242.17 180.00,242.30 C186.67,242.43 177.00,242.58 200.00,242.70 C223.00,242.82 298.33,242.95 318.00,243.00" fill="none" stroke="#1b6fa8" stroke-width="0.7" stroke-opacity="0.8"/>
<path d="M151.00,251.00 C151.08,250.53 150.10,248.92 151.50,248.20 C152.90,247.48 154.65,246.98 159.40,246.70 C164.15,246.42 166.57,246.47 180.00,246.50 C193.43,246.53 217.00,246.78 240.00,246.90 C263.00,247.02 305.00,247.15 318.00,247.20" fill="none" stroke="#223f88" stroke-width="0.6" stroke-opacity="0.8"/>
<path d="M146.00,248.00 C146.33,247.43 144.00,245.20 148.00,244.60 C152.00,244.00 161.33,244.33 170.00,244.40 C178.67,244.47 175.33,244.80 200.00,245.00 C224.67,245.20 298.33,245.50 318.00,245.60" fill="none" stroke="#1f88c0" stroke-width="0.6" stroke-opacity="0.6"/>
<path d="M37,250.6 L130,250.6" stroke="#000" stroke-width="1.8"/>
<path d="M130,251 L318,251" stroke="#000" stroke-width="0.8" stroke-opacity="0.6"/>
</g>
<g clip-path="url(#cr)">
<defs><filter id="bb" x="-30%" y="-30%" width="160%" height="160%"><feGaussianBlur stdDeviation="10"/></filter><filter id="bs" x="-20%" y="-20%" width="140%" height="140%"><feGaussianBlur stdDeviation="1.3"/></filter><filter id="bm" x="-20%" y="-20%" width="140%" height="140%"><feGaussianBlur stdDeviation="2.6"/></filter><filter id="bl" x="-20%" y="-20%" width="140%" height="140%"><feGaussianBlur stdDeviation="6"/></filter></defs>
<rect x="398" y="30" width="280" height="222" fill="#34549E"/>
<g filter="url(#bb)">
<rect x="370" y="0" width="110" height="280" fill="#F7D600"/>
<path d="M390.00,108.00 C395.83,95.33 412.50,104.00 425.00,104.00 C437.50,104.00 457.50,102.00 465.00,108.00 C472.50,114.00 469.50,127.17 470.00,140.00 C470.50,152.83 474.67,176.33 468.00,185.00 C461.33,193.67 439.67,192.00 430.00,192.00 C420.33,192.00 416.67,187.00 410.00,185.00 C403.33,183.00 393.33,192.83 390.00,180.00 C386.67,167.17 384.17,120.67 390.00,108.00 Z" fill="#F3B20E" />
<ellipse cx="440" cy="148" rx="12" ry="24" fill="#F0A218"/>
<path d="M390.00,205.00 C395.00,194.67 411.67,199.17 420.00,200.00 C428.33,200.83 435.67,204.17 440.00,210.00 C444.33,215.83 447.67,226.33 446.00,235.00 C444.33,243.67 439.33,257.50 430.00,262.00 C420.67,266.50 396.67,271.50 390.00,262.00 C383.33,252.50 385.00,215.33 390.00,205.00 Z" fill="#F8DA02" />
<ellipse cx="419" cy="258" rx="20" ry="13" fill="#F09A18"/>
</g>
<g filter="url(#bl)"><ellipse cx="420" cy="256" rx="14" ry="10" fill="#F09C18"/></g>
<g filter="url(#bl)">
<path d="M476.00,150.00 L481.00,195.00 L490.00,206.00 L505.00,214.00 L522.00,225.00 L537.00,236.00 L545.00,247.00 L548.00,262.00 L450.00,262.00 L452.00,235.00 L462.00,222.00 L470.00,205.00 Z" fill="#4BB5E2" />
<path d="M452.00,262.00 C446.50,258.00 452.33,243.33 455.00,238.00 C457.67,232.67 463.00,231.00 468.00,230.00 C473.00,229.00 481.00,229.00 485.00,232.00 C489.00,235.00 491.50,243.00 492.00,248.00 C492.50,253.00 494.67,259.67 488.00,262.00 C481.33,264.33 457.50,266.00 452.00,262.00 Z" fill="#30A2DE" />
<path d="M494.00,258.00 C488.17,254.33 495.00,240.33 498.00,236.00 C501.00,231.67 507.17,231.33 512.00,232.00 C516.83,232.67 523.50,235.67 527.00,240.00 C530.50,244.33 538.50,255.00 533.00,258.00 C527.50,261.00 499.83,261.67 494.00,258.00 Z" fill="#68BFD2" />
</g>
<g filter="url(#bm)">
<path d="M426.00,262.00 C424.00,258.33 424.33,246.67 425.00,240.00 C425.67,233.33 427.17,227.00 430.00,222.00 C432.83,217.00 438.17,212.50 442.00,210.00 C445.83,207.50 452.67,205.00 453.00,207.00 C453.33,209.00 446.50,216.50 444.00,222.00 C441.50,227.50 439.17,233.33 438.00,240.00 C436.83,246.67 439.00,258.33 437.00,262.00 C435.00,265.67 428.00,265.67 426.00,262.00 Z" fill="#DCD820" />
<path d="M434.50,262.00 C432.17,258.80 433.23,243.20 433.50,238.00 C433.77,232.80 434.97,226.13 436.50,223.00 C438.03,219.87 442.13,215.10 445.00,214.50 C447.87,213.90 455.07,218.23 458.00,218.50 C460.93,218.77 464.87,217.90 467.00,216.50 C469.13,215.10 472.67,210.73 474.00,208.00 C475.33,205.27 476.13,197.07 477.00,196.00 C477.87,194.93 479.90,198.13 480.50,200.00 C481.10,201.87 481.97,207.20 481.50,210.00 C481.03,212.80 479.07,218.80 477.00,221.00 C474.93,223.20 468.60,225.10 466.00,226.50 C463.40,227.90 459.30,229.57 457.50,231.50 C455.70,233.43 453.37,236.93 452.50,241.00 C451.63,245.07 453.40,259.20 451.00,262.00 C448.60,264.80 436.83,265.20 434.50,262.00 Z" fill="#5EAE4B" />
</g>
<g filter="url(#bs)">
<path d="M471.00,20.00 L477.00,20.00 L477.60,80.00 L478.60,120.00 L479.40,170.00 L480.00,195.00 L484.00,204.00 L478.00,210.00 L472.00,200.00 Z" fill="#45B2E2" />
<path d="M474.40,20.00 L700.00,20.00 L700.00,262.00 L549.00,262.00 L546.50,249.00 L538.00,237.00 L520.00,223.50 L502.00,212.00 L486.00,205.50 L481.00,199.00 L478.40,188.00 L477.00,170.00 L476.00,120.00 L475.00,80.00 Z" fill="#34549E" />
<path d="M466.90,20.00 L471.60,20.00 L472.20,80.00 L473.00,120.00 L474.00,170.00 L475.50,185.00 L477.00,198.00 L477.50,206.00 L474.50,213.00 L469.00,216.50 L464.00,217.00 L469.00,200.00 L469.60,170.00 L468.50,120.00 L467.50,80.00 Z" fill="#62AF50" />
<path d="M464.20,20.00 C465.10,11.00 466.68,14.00 467.00,20.00 C467.32,26.00 467.30,70.00 467.40,80.00 C467.50,90.00 467.84,111.00 468.00,120.00 C468.16,129.00 468.77,162.40 469.00,170.00 C469.23,177.60 470.25,192.05 470.30,196.00 C470.35,199.95 470.08,207.42 469.50,209.50 C468.92,211.58 465.65,216.00 464.50,216.80 C463.35,217.60 459.05,217.78 458.00,217.50 C456.95,217.22 454.30,215.25 454.00,214.00 C453.70,212.75 454.60,209.40 455.00,205.00 C455.40,200.60 457.70,179.50 458.00,170.00 C458.30,160.50 457.38,125.00 458.00,110.00 C458.62,95.00 463.30,29.00 464.20,20.00 Z" fill="#F0DA14" />
</g>
<defs><linearGradient id="ob" x1="452" x2="466" y1="0" y2="0" gradientUnits="userSpaceOnUse"><stop offset="0" stop-color="#F2A414" stop-opacity="0"/><stop offset="0.45" stop-color="#F09A1A"/><stop offset="0.82" stop-color="#E86426"/><stop offset="1" stop-color="#E86426"/></linearGradient></defs>
<g filter="url(#bs)">
<path d="M452.00,20.00 C453.29,10.00 464.00,14.00 465.40,20.00 C466.80,26.00 465.84,70.00 466.00,80.00 C466.16,90.00 466.72,111.00 467.00,120.00 C467.28,129.00 468.54,162.20 468.80,170.00 C469.06,177.80 469.70,194.00 469.60,198.00 C469.50,202.00 468.51,208.35 467.80,210.00 C467.09,211.65 463.53,214.25 462.50,214.50 C461.47,214.75 458.21,213.45 457.50,212.50 C456.79,211.55 455.80,208.25 455.40,205.00 C455.00,201.75 453.79,188.50 453.50,180.00 C453.21,171.50 452.65,136.00 452.50,120.00 C452.35,104.00 450.71,30.00 452.00,20.00 Z" fill="url(#ob)" />
<defs><linearGradient id="rg" x1="0" y1="85" x2="0" y2="160" gradientUnits="userSpaceOnUse"><stop offset="0" stop-color="#E23129" stop-opacity="0"/><stop offset="1" stop-color="#E23129" stop-opacity="1"/></linearGradient></defs>
<path d="M461.50,85.00 C462.04,80.50 464.59,81.50 465.00,85.00 C465.41,88.50 465.47,112.30 465.60,120.00 C465.73,127.70 466.08,154.40 466.30,162.00 C466.52,169.60 467.81,191.50 467.80,196.00 C467.79,200.50 466.75,205.44 466.20,207.00 C465.65,208.56 463.02,211.45 462.30,211.60 C461.58,211.75 459.47,209.66 459.00,208.50 C458.53,207.34 457.67,203.35 457.60,200.00 C457.53,196.65 458.10,182.00 458.30,175.00 C458.50,168.00 459.28,139.00 459.60,130.00 C459.92,121.00 460.96,89.50 461.50,85.00 Z" fill="url(#rg)" />
</g>
<defs><linearGradient id="gs" x1="0" y1="30" x2="0" y2="252" gradientUnits="userSpaceOnUse"><stop offset="0" stop-color="#b8b8b8" stop-opacity="1"/><stop offset="0.3" stop-color="#b8b8b8" stop-opacity="0.8"/><stop offset="1" stop-color="#b8b8b8" stop-opacity="0.35"/></linearGradient></defs><rect x="399" y="30" width="1.6" height="222" fill="url(#gs)"/>
</g>
<line x1="48.66" y1="284.7" x2="48.66" y2="280.9" stroke="#555" stroke-width="0.8"/>
<line x1="59.82" y1="284.7" x2="59.82" y2="280.9" stroke="#555" stroke-width="0.8"/>
<line x1="70.98" y1="284.7" x2="70.98" y2="280.9" stroke="#555" stroke-width="0.8"/>
<line x1="82.14" y1="284.7" x2="82.14" y2="280.9" stroke="#555" stroke-width="0.8"/>
<line x1="93.30" y1="284.7" x2="93.30" y2="278.7" stroke="#2a2a2a" stroke-width="1.3"/>
<line x1="104.46" y1="284.7" x2="104.46" y2="280.9" stroke="#555" stroke-width="0.8"/>
<line x1="115.62" y1="284.7" x2="115.62" y2="280.9" stroke="#555" stroke-width="0.8"/>
<line x1="126.78" y1="284.7" x2="126.78" y2="280.9" stroke="#555" stroke-width="0.8"/>
<line x1="137.94" y1="284.7" x2="137.94" y2="280.9" stroke="#555" stroke-width="0.8"/>
<line x1="149.10" y1="284.7" x2="149.10" y2="278.7" stroke="#2a2a2a" stroke-width="1.3"/>
<line x1="160.26" y1="284.7" x2="160.26" y2="280.9" stroke="#555" stroke-width="0.8"/>
<line x1="171.42" y1="284.7" x2="171.42" y2="280.9" stroke="#555" stroke-width="0.8"/>
<line x1="182.58" y1="284.7" x2="182.58" y2="280.9" stroke="#555" stroke-width="0.8"/>
<line x1="193.74" y1="284.7" x2="193.74" y2="280.9" stroke="#555" stroke-width="0.8"/>
<line x1="204.90" y1="284.7" x2="204.90" y2="278.7" stroke="#2a2a2a" stroke-width="1.3"/>
<line x1="216.06" y1="284.7" x2="216.06" y2="280.9" stroke="#555" stroke-width="0.8"/>
<line x1="227.22" y1="284.7" x2="227.22" y2="280.9" stroke="#555" stroke-width="0.8"/>
<line x1="238.38" y1="284.7" x2="238.38" y2="280.9" stroke="#555" stroke-width="0.8"/>
<line x1="249.54" y1="284.7" x2="249.54" y2="280.9" stroke="#555" stroke-width="0.8"/>
<line x1="260.70" y1="284.7" x2="260.70" y2="278.7" stroke="#2a2a2a" stroke-width="1.3"/>
<line x1="271.86" y1="284.7" x2="271.86" y2="280.9" stroke="#555" stroke-width="0.8"/>
<line x1="283.02" y1="284.7" x2="283.02" y2="280.9" stroke="#555" stroke-width="0.8"/>
<line x1="294.18" y1="284.7" x2="294.18" y2="280.9" stroke="#555" stroke-width="0.8"/>
<line x1="305.34" y1="284.7" x2="305.34" y2="280.9" stroke="#555" stroke-width="0.8"/>
<line x1="37.5" y1="273.62" x2="41.3" y2="273.62" stroke="#555" stroke-width="0.8"/>
<line x1="37.5" y1="262.46" x2="41.3" y2="262.46" stroke="#555" stroke-width="0.8"/>
<line x1="37.5" y1="251.30" x2="43.5" y2="251.30" stroke="#2a2a2a" stroke-width="1.3"/>
<line x1="37.5" y1="240.14" x2="41.3" y2="240.14" stroke="#111" stroke-width="0.8"/>
<line x1="37.5" y1="228.98" x2="41.3" y2="228.98" stroke="#111" stroke-width="0.8"/>
<line x1="37.5" y1="217.82" x2="41.3" y2="217.82" stroke="#111" stroke-width="0.8"/>
<line x1="37.5" y1="206.66" x2="41.3" y2="206.66" stroke="#111" stroke-width="0.8"/>
<line x1="37.5" y1="195.50" x2="43.5" y2="195.50" stroke="#111" stroke-width="1.3"/>
<line x1="37.5" y1="184.34" x2="41.3" y2="184.34" stroke="#111" stroke-width="0.8"/>
<line x1="37.5" y1="173.18" x2="41.3" y2="173.18" stroke="#111" stroke-width="0.8"/>
<line x1="37.5" y1="162.02" x2="41.3" y2="162.02" stroke="#111" stroke-width="0.8"/>
<line x1="37.5" y1="150.86" x2="41.3" y2="150.86" stroke="#111" stroke-width="0.8"/>
<line x1="37.5" y1="139.70" x2="43.5" y2="139.70" stroke="#111" stroke-width="1.3"/>
<line x1="37.5" y1="128.54" x2="41.3" y2="128.54" stroke="#111" stroke-width="0.8"/>
<line x1="37.5" y1="117.38" x2="41.3" y2="117.38" stroke="#111" stroke-width="0.8"/>
<line x1="37.5" y1="106.22" x2="41.3" y2="106.22" stroke="#111" stroke-width="0.8"/>
<line x1="37.5" y1="95.06" x2="41.3" y2="95.06" stroke="#111" stroke-width="0.8"/>
<line x1="37.5" y1="83.90" x2="43.5" y2="83.90" stroke="#111" stroke-width="1.3"/>
<line x1="37.5" y1="72.74" x2="41.3" y2="72.74" stroke="#111" stroke-width="0.8"/>
<line x1="37.5" y1="61.58" x2="41.3" y2="61.58" stroke="#111" stroke-width="0.8"/>
<line x1="37.5" y1="50.42" x2="41.3" y2="50.42" stroke="#111" stroke-width="0.8"/>
<line x1="37.5" y1="39.26" x2="41.3" y2="39.26" stroke="#111" stroke-width="0.8"/>
<line x1="410.11" y1="284.7" x2="410.11" y2="280.9" stroke="#555" stroke-width="0.8"/>
<line x1="421.27" y1="284.7" x2="421.27" y2="280.9" stroke="#555" stroke-width="0.8"/>
<line x1="432.43" y1="284.7" x2="432.43" y2="280.9" stroke="#555" stroke-width="0.8"/>
<line x1="443.59" y1="284.7" x2="443.59" y2="280.9" stroke="#555" stroke-width="0.8"/>
<line x1="454.75" y1="284.7" x2="454.75" y2="278.7" stroke="#2a2a2a" stroke-width="1.3"/>
<line x1="465.91" y1="284.7" x2="465.91" y2="280.9" stroke="#555" stroke-width="0.8"/>
<line x1="477.07" y1="284.7" x2="477.07" y2="280.9" stroke="#555" stroke-width="0.8"/>
<line x1="488.23" y1="284.7" x2="488.23" y2="280.9" stroke="#555" stroke-width="0.8"/>
<line x1="499.39" y1="284.7" x2="499.39" y2="280.9" stroke="#555" stroke-width="0.8"/>
<line x1="510.55" y1="284.7" x2="510.55" y2="278.7" stroke="#2a2a2a" stroke-width="1.3"/>
<line x1="521.71" y1="284.7" x2="521.71" y2="280.9" stroke="#555" stroke-width="0.8"/>
<line x1="532.87" y1="284.7" x2="532.87" y2="280.9" stroke="#555" stroke-width="0.8"/>
<line x1="544.03" y1="284.7" x2="544.03" y2="280.9" stroke="#555" stroke-width="0.8"/>
<line x1="555.19" y1="284.7" x2="555.19" y2="280.9" stroke="#555" stroke-width="0.8"/>
<line x1="566.35" y1="284.7" x2="566.35" y2="278.7" stroke="#2a2a2a" stroke-width="1.3"/>
<line x1="577.51" y1="284.7" x2="577.51" y2="280.9" stroke="#555" stroke-width="0.8"/>
<line x1="588.67" y1="284.7" x2="588.67" y2="280.9" stroke="#555" stroke-width="0.8"/>
<line x1="599.83" y1="284.7" x2="599.83" y2="280.9" stroke="#555" stroke-width="0.8"/>
<line x1="610.99" y1="284.7" x2="610.99" y2="280.9" stroke="#555" stroke-width="0.8"/>
<line x1="622.15" y1="284.7" x2="622.15" y2="278.7" stroke="#2a2a2a" stroke-width="1.3"/>
<line x1="633.31" y1="284.7" x2="633.31" y2="280.9" stroke="#555" stroke-width="0.8"/>
<line x1="644.47" y1="284.7" x2="644.47" y2="280.9" stroke="#555" stroke-width="0.8"/>
<line x1="655.63" y1="284.7" x2="655.63" y2="280.9" stroke="#555" stroke-width="0.8"/>
<line x1="666.79" y1="284.7" x2="666.79" y2="280.9" stroke="#555" stroke-width="0.8"/>
<line x1="398.5" y1="273.62" x2="402.3" y2="273.62" stroke="#555" stroke-width="0.8"/>
<line x1="398.5" y1="262.46" x2="402.3" y2="262.46" stroke="#555" stroke-width="0.8"/>
<line x1="398.5" y1="251.30" x2="404.5" y2="251.30" stroke="#2a2a2a" stroke-width="1.3"/>
<line x1="398.5" y1="240.14" x2="402.3" y2="240.14" stroke="#555" stroke-width="0.8"/>
<line x1="398.5" y1="228.98" x2="402.3" y2="228.98" stroke="#555" stroke-width="0.8"/>
<line x1="398.5" y1="217.82" x2="402.3" y2="217.82" stroke="#555" stroke-width="0.8"/>
<line x1="398.5" y1="206.66" x2="402.3" y2="206.66" stroke="#555" stroke-width="0.8"/>
<line x1="398.5" y1="195.50" x2="404.5" y2="195.50" stroke="#2a2a2a" stroke-width="1.3"/>
<line x1="398.5" y1="184.34" x2="402.3" y2="184.34" stroke="#555" stroke-width="0.8"/>
<line x1="398.5" y1="173.18" x2="402.3" y2="173.18" stroke="#555" stroke-width="0.8"/>
<line x1="398.5" y1="162.02" x2="402.3" y2="162.02" stroke="#555" stroke-width="0.8"/>
<line x1="398.5" y1="150.86" x2="402.3" y2="150.86" stroke="#555" stroke-width="0.8"/>
<line x1="398.5" y1="139.70" x2="404.5" y2="139.70" stroke="#2a2a2a" stroke-width="1.3"/>
<line x1="398.5" y1="128.54" x2="402.3" y2="128.54" stroke="#555" stroke-width="0.8"/>
<line x1="398.5" y1="117.38" x2="402.3" y2="117.38" stroke="#555" stroke-width="0.8"/>
<line x1="398.5" y1="106.22" x2="402.3" y2="106.22" stroke="#555" stroke-width="0.8"/>
<line x1="398.5" y1="95.06" x2="402.3" y2="95.06" stroke="#555" stroke-width="0.8"/>
<line x1="398.5" y1="83.90" x2="404.5" y2="83.90" stroke="#2a2a2a" stroke-width="1.3"/>
<line x1="398.5" y1="72.74" x2="402.3" y2="72.74" stroke="#555" stroke-width="0.8"/>
<line x1="398.5" y1="61.58" x2="402.3" y2="61.58" stroke="#555" stroke-width="0.8"/>
<line x1="398.5" y1="50.42" x2="402.3" y2="50.42" stroke="#555" stroke-width="0.8"/>
<line x1="398.5" y1="39.26" x2="402.3" y2="39.26" stroke="#555" stroke-width="0.8"/>
<rect x="37.5" y="30.5" width="279" height="254.2" fill="none" stroke="#262626" stroke-width="1.15"/>
<rect x="398.5" y="30.5" width="279" height="254.2" fill="none" stroke="#262626" stroke-width="1.15"/>
<text x="36.80" y="301.8" text-anchor="middle" font-size="14">15</text>
<text x="92.60" y="301.8" text-anchor="middle" font-size="14">20</text>
<text x="148.40" y="301.8" text-anchor="middle" font-size="14">25</text>
<text x="204.20" y="301.8" text-anchor="middle" font-size="14">30</text>
<text x="260.00" y="301.8" text-anchor="middle" font-size="14">35</text>
<text x="315.80" y="301.8" text-anchor="middle" font-size="14">40</text>
<text x="32.7" y="256.80" text-anchor="end" font-size="14">0</text>
<text x="32.7" y="201.00" text-anchor="end" font-size="14">5</text>
<text x="32.7" y="145.20" text-anchor="end" font-size="14">10</text>
<text x="32.7" y="89.40" text-anchor="end" font-size="14">15</text>
<text x="177" y="316.6" text-anchor="middle" font-size="14.7"><tspan font-style="italic">&#952;</tspan> (&#176;)</text>
<text transform="translate(11,156.5) rotate(-90)" text-anchor="middle" font-size="14.7"><tspan font-style="italic">&#966;</tspan> (&#176;)</text>
<text x="398.25" y="301.8" text-anchor="middle" font-size="14">15</text>
<text x="454.05" y="301.8" text-anchor="middle" font-size="14">20</text>
<text x="509.85" y="301.8" text-anchor="middle" font-size="14">25</text>
<text x="565.65" y="301.8" text-anchor="middle" font-size="14">30</text>
<text x="621.45" y="301.8" text-anchor="middle" font-size="14">35</text>
<text x="677.25" y="301.8" text-anchor="middle" font-size="14">40</text>
<text x="393.7" y="256.80" text-anchor="end" font-size="14">0</text>
<text x="393.7" y="201.00" text-anchor="end" font-size="14">5</text>
<text x="393.7" y="145.20" text-anchor="end" font-size="14">10</text>
<text x="393.7" y="89.40" text-anchor="end" font-size="14">15</text>
<text x="538" y="316.6" text-anchor="middle" font-size="14.7"><tspan font-style="italic">&#952;</tspan> (&#176;)</text>
<text transform="translate(372,156.5) rotate(-90)" text-anchor="middle" font-size="14.7"><tspan font-style="italic">&#966;</tspan> (&#176;)</text>
<text x="92.3" y="334.2" font-size="14.5">(a) The density contour</text>
<text x="449.9" y="334.2" font-size="14.5">(b) The pressure contour</text>
</svg>
</body></html>
